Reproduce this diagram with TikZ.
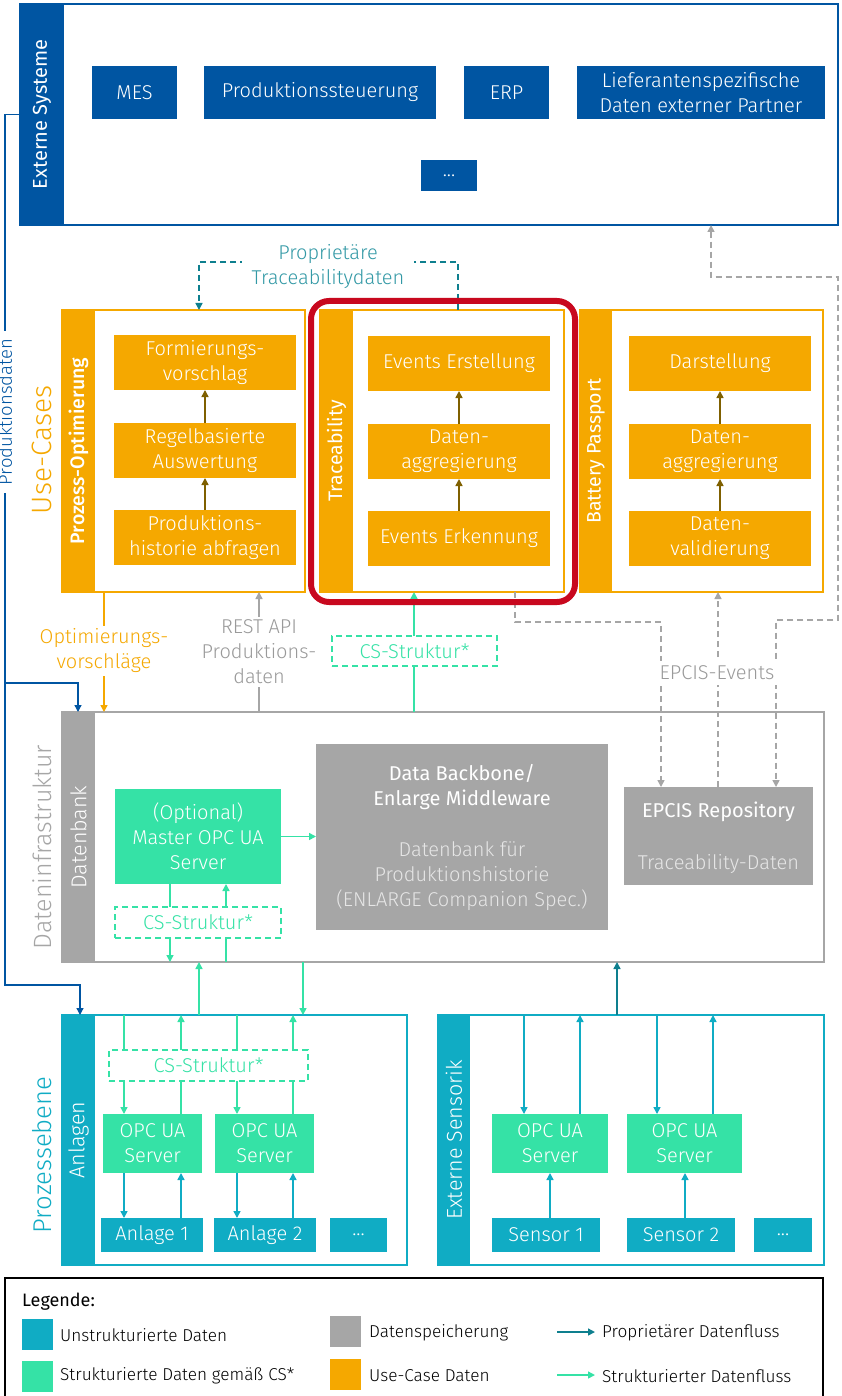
\documentclass[tikz,border=0pt]{standalone}
\usepackage{fontspec}
\setmainfont{Fira Sans}[UprightFont=* Light, BoldFont=* Medium]
\newfontfamily\regfont{Fira Sans}
\usetikzlibrary{arrows.meta,calc}
\definecolor{extblue}{HTML}{0055A2}
\definecolor{uorange}{HTML}{F5A800}
\definecolor{ubrown}{HTML}{7F6000}
\definecolor{uteal}{HTML}{10ACC4}
\definecolor{dteal}{HTML}{0E7F8E}
\definecolor{ptext}{HTML}{3399A6}
\definecolor{sgreen}{HTML}{35E2A6}
\definecolor{sgray}{HTML}{A6A6A6}
\definecolor{tgray}{HTML}{9A9A9A}
\definecolor{bbtext}{HTML}{E6E6E6}
\definecolor{hred}{HTML}{C8081E}
\newcommand{\fB}{\fontsize{20}{25}\selectfont}
\newcommand{\fL}{\fontsize{17.2}{20}\selectfont}
\begin{document}
\begin{tikzpicture}[x=1pt,y=-1pt,
  frm/.style={draw, fill=white, inner sep=0pt, outer sep=0pt, line width=2pt},
  sidebar/.style={inner sep=0pt, outer sep=0pt, draw=none},
  blk/.style={inner sep=0pt, outer sep=0pt, align=center, text=white, font=\fB},
  csbox/.style={draw=sgreen, dash pattern=on 6pt off 4pt, line width=1.5pt, fill=white, text=sgreen, inner sep=0pt, outer sep=0pt, font=\fB},
  arr/.style={-{Triangle[length=7pt,width=7pt]}},
  arrboth/.style={{Triangle[length=7pt,width=7pt]}-{Triangle[length=7pt,width=7pt]}},
  garr/.style={sgreen, line width=1.5pt},
  tarr/.style={uteal, line width=1.5pt},
  brarr/.style={ubrown, line width=1.5pt, arr},
  gdash/.style={sgray, line width=1.5pt, dash pattern=on 6pt off 4pt},
  vlabel/.style={rotate=90, inner sep=0pt, text=white, font=\fontsize{21.5}{25}\selectfont},
  lbl/.style={fill=white, align=center, font=\fB, inner sep=3pt}
]
\useasboundingbox (0,0) rectangle (841,1396);
\fill[white] (0,0) rectangle (841,1396);

% x-position helpers
\foreach \xx in {78,80,104,124,170,181,199,226,237,259,293,303,414,515,524,550,580,617,657,661,685,711,713,718,776}
  {\coordinate (x\xx) at (\xx,0);}
\coordinate (k1) at (838,277);
\coordinate (k2) at (838,620);
\coordinate (b1) at (5,114.5);
\coordinate (b2) at (5,985);
\coordinate (b3) at (5,683);

% ===== Externe Systeme =====
\node[frm, draw=extblue, line width=2.5pt, minimum width=818, minimum height=221] (extf) at (429,114.5) {};
\node[sidebar, fill=extblue, minimum width=44, minimum height=221] (extbar) at (42,114.5) {};
\node[rotate=90, inner sep=0pt, text=white, font=\fontsize{20}{24}\selectfont\regfont] (extlbl) at (extbar) {Externe Systeme};
\node[blk, fill=extblue, minimum width=85, minimum height=53] (mes) at (134.5,92.5) {MES};
\node[blk, fill=extblue, minimum width=232, minimum height=53] (pst) at (320,92.5) {Produktionssteuerung};
\node[blk, fill=extblue, minimum width=85, minimum height=53] (erp) at (506.5,92.5) {ERP};
\node[blk, fill=extblue, minimum width=248, minimum height=53] (lief) at (701,92.5) {Lieferantenspezifische\\Daten externer Partner};
\node[blk, fill=extblue, minimum width=56, minimum height=31] (extdots) at (449,175.5) {...};

% ===== Use-Cases =====
\node[rotate=90, text=uorange, font=\fontsize{28}{32}\selectfont, inner sep=0pt] (uclbl) at (42,450) {Use-Cases};

\node[frm, draw=uorange, minimum width=243, minimum height=282] (pof) at (183.5,451) {};
\node[sidebar, fill=uorange, minimum width=33, minimum height=282] (pobar) at (78.5,451) {};
\node[rotate=90, inner sep=0pt, text=white, font=\fontsize{19.5}{24}\selectfont\bfseries] (polbl) at (pobar) {Prozess-Optimierung};
\node[blk, fill=uorange, minimum width=182, minimum height=55] (po1) at (205,362.5) {Formierungs-\\vorschlag};
\node[blk, fill=uorange, minimum width=182, minimum height=55] (po2) at (205,450.5) {Regelbasierte\\Auswertung};
\node[blk, fill=uorange, minimum width=182, minimum height=55] (po3) at (205,537.5) {Produktions-\\historie abfragen};
\draw[brarr] (po3) -- (po2);
\draw[brarr] (po2) -- (po1);

\node[frm, draw=uorange, minimum width=244, minimum height=282] (trf) at (442,451) {};
\node[sidebar, fill=uorange, minimum width=33, minimum height=282] (trbar) at (336.5,451) {};
\node[rotate=90, inner sep=0pt, text=white, font=\fontsize{19.5}{24}\selectfont\regfont] (trlbl) at (trbar) {Traceability};
\node[blk, fill=uorange, minimum width=182, minimum height=55] (tr1) at (459,363.5) {Events Erstellung};
\node[blk, fill=uorange, minimum width=182, minimum height=55] (tr2) at (459,451.5) {Daten-\\aggregierung};
\node[blk, fill=uorange, minimum width=182, minimum height=55] (tr3) at (459,538.5) {Events Erkennung};
\draw[brarr] (tr3) -- (tr2);
\draw[brarr] (tr2) -- (tr1);

\node[frm, draw=uorange, minimum width=243, minimum height=282] (bpf) at (701.5,451) {};
\node[sidebar, fill=uorange, minimum width=32, minimum height=282] (bpbar) at (596,451) {};
\node[rotate=90, inner sep=0pt, text=white, font=\fontsize{19.5}{24}\selectfont\regfont] (bplbl) at (bpbar) {Battery Passport};
\node[blk, fill=uorange, minimum width=182, minimum height=55] (bp1) at (720,363.5) {Darstellung};
\node[blk, fill=uorange, minimum width=182, minimum height=55] (bp2) at (720,451.5) {Daten-\\aggregierung};
\node[blk, fill=uorange, minimum width=182, minimum height=55] (bp3) at (720,538.5) {Daten-\\validierung};
\draw[brarr] (bp3) -- (bp2);
\draw[brarr] (bp2) -- (bp1);

% proprietary traceability data
\draw[dteal, line width=1.5pt, dash pattern=on 6pt off 4pt, arr] ([xshift=16pt]trf.north) -- ++(0,-48) -| ([xshift=15.5pt]pof.north);
\node[lbl, text=ptext, inner xsep=10pt] (ptd) at (328,267) {Proprietäre\\Traceabilitydaten};

% ===== Dateninfrastruktur =====
\node[frm, draw=sgray, line width=2.5pt, minimum width=762, minimum height=250] (dif) at (443,837) {};
\node[sidebar, fill=sgray, minimum width=33, minimum height=250] (dibar) at (78.5,837) {};
\node[vlabel] (dilbl) at (78.5,837) {Datenbank};
\node[rotate=90, text=sgray, font=\fontsize{25}{30}\selectfont, inner sep=0pt] (ditlbl) at (42,847) {Dateninfrastruktur};

\node[blk, fill=sgreen, minimum width=166, minimum height=95] (master) at (198,836.5) {(Optional)\\Master OPC UA\\Server};
\node[blk, fill=sgray, minimum width=292, minimum height=186] (backbone) at (462,837) {};
\node[blk, font=\fB\regfont] (bbt1) at (462,787.5) {Data Backbone/\\Enlarge Middleware};
\node[blk, text=bbtext] (bbt2) at (462,876) {Datenbank für\\Produktionshistorie\\(ENLARGE Companion Spec.)};
\node[blk, fill=sgray, minimum width=189, minimum height=98] (epcis) at (718.5,836) {};
\node[blk, font=\fB\regfont] (ept1) at (718.5,812) {EPCIS Repository};
\node[blk, text=bbtext] (ept2) at (718.5,864) {Traceability-Daten};
\node[csbox, minimum width=166, minimum height=31] (cs2) at (198,922.5) {CS-Struktur*};

\draw[garr, arr] (master.east) -- (master.east -| backbone.west);
\draw[garr] (master.south -| x170) -- (cs2.north -| x170);
\draw[garr, arr] (cs2.south -| x170) -- (dif.south -| x170);
\draw[garr] (dif.south -| x226) -- (cs2.south -| x226);
\draw[garr, arr] (cs2.north -| x226) -- (master.south -| x226);

% ===== between use cases and data infra =====
\node[csbox, minimum width=165, minimum height=30] (cs1) at (414.5,651) {CS-Struktur*};
\draw[garr] (dif.north -| x414) -- (cs1.south -| x414);
\draw[garr, arr] (cs1.north -| x414) -- (trf.south -| x414);

\draw[sgray, line width=1.5pt, arr] (dif.north -| x259) -- (pof.south -| x259);
\node[lbl, text=tgray] (rest) at (259,652) {REST API\\Produktions-\\daten};

\draw[uorange, line width=1.5pt, arr] (pof.south -| x104) -- (dif.north -| x104);
\node[lbl, text=uorange] (optv) at (104,651) {Optimierungs-\\vorschläge};

\draw[gdash, arr] (trf.south -| x515) -- ++(0,30) -| (epcis.north -| x661);
\draw[gdash, arr] (epcis.north -| x718) -- (bpf.south -| x718);
\draw[gdash, arrboth] (extf.south -| x711) |- (k1) -- (k2) -| (epcis.north -| x776);
\node[lbl, text=tgray, inner sep=5pt] (epev) at (717,673) {EPCIS-Events};

% highlight
\node[draw=hred, line width=6pt, rounded corners=18pt, minimum width=264, minimum height=301, inner sep=0pt, outer sep=0pt] (hl) at (443,451.5) {};

% ===== Prozessebene =====
\node[rotate=90, text=uteal, font=\fontsize{25.7}{30}\selectfont, inner sep=0pt] (pelbl) at (42,1155) {Prozessebene};

\node[frm, draw=uteal, minimum width=345, minimum height=250] (anf) at (234.5,1140) {};
\node[sidebar, fill=uteal, minimum width=33, minimum height=250] (anbar) at (78.5,1140) {};
\node[vlabel] (anlbl) at (78.5,1140) {Anlagen};
\node[csbox, minimum width=199, minimum height=31] (cs3) at (208.5,1065.5) {CS-Struktur*};
\node[blk, fill=sgreen, minimum width=99, minimum height=59] (opc1) at (152.5,1143.5) {OPC UA\\Server};
\node[blk, fill=sgreen, minimum width=99, minimum height=59] (opc2) at (264.5,1143.5) {OPC UA\\Server};
\node[blk, fill=uteal, minimum width=102, minimum height=34] (anl1) at (152,1235) {Anlage 1};
\node[blk, fill=uteal, minimum width=102, minimum height=34] (anl2) at (265,1235) {Anlage 2};
\node[blk, fill=uteal, minimum width=57, minimum height=34] (anl3) at (358.5,1235) {...};

\node[frm, draw=uteal, minimum width=386, minimum height=250] (esf) at (631,1140) {};
\node[sidebar, fill=uteal, minimum width=32, minimum height=250] (esbar) at (454,1140) {};
\node[vlabel] (eslbl) at (454,1140) {Externe Sensorik};
\node[blk, fill=sgreen, minimum width=116, minimum height=59] (opc3) at (550,1143.5) {OPC UA\\Server};
\node[blk, fill=sgreen, minimum width=115, minimum height=59] (opc4) at (684.5,1143.5) {OPC UA\\Server};
\node[blk, fill=uteal, minimum width=108, minimum height=34] (sen1) at (546,1235) {Sensor 1};
\node[blk, fill=uteal, minimum width=108, minimum height=34] (sen2) at (681,1235) {Sensor 2};
\node[blk, fill=uteal, minimum width=58, minimum height=34] (sen3) at (783,1235) {...};

% connections data infra <-> process
\draw[garr, arr] (anf.north -| x199) -- (dif.south -| x199);
\draw[garr, arr] (dif.south -| x303) -- (anf.north -| x303);
\draw[dteal, line width=1.5pt, arr] (esf.north -| x617) -- (dif.south -| x617);

% Anlagen internal
\draw[garr] (anf.north -| x124) -- (cs3.north -| x124);
\draw[garr, arr] (cs3.south -| x124) -- (opc1.north -| x124);
\draw[garr, arr] (cs3.north -| x181) -- (anf.north -| x181);
\draw[garr] (opc1.north -| x181) -- (cs3.south -| x181);
\draw[garr] (anf.north -| x237) -- (cs3.north -| x237);
\draw[garr, arr] (cs3.south -| x237) -- (opc2.north -| x237);
\draw[garr, arr] (cs3.north -| x293) -- (anf.north -| x293);
\draw[garr] (opc2.north -| x293) -- (cs3.south -| x293);
\draw[tarr, arr] (opc1.south -| x124) -- (anl1.north -| x124);
\draw[tarr, arr] (anl1.north -| x181) -- (opc1.south -| x181);
\draw[tarr, arr] (opc2.south -| x237) -- (anl2.north -| x237);
\draw[tarr, arr] (anl2.north -| x293) -- (opc2.south -| x293);

% Sensorik internal
\draw[tarr, arr] (esf.north -| x524) -- (opc3.north -| x524);
\draw[tarr, arr] (opc3.north -| x580) -- (esf.north -| x580);
\draw[tarr, arr] (esf.north -| x657) -- (opc4.north -| x657);
\draw[tarr, arr] (opc4.north -| x713) -- (esf.north -| x713);
\draw[tarr, arr] (sen1.north -| x550) -- (opc3.south -| x550);
\draw[tarr, arr] (sen2.north -| x685) -- (opc4.south -| x685);

% Produktionsdaten (blue)
\draw[extblue, line width=1.3pt, arr] (extbar.west) -- (b1) -- (b2) -| (anf.north -| x80);
\draw[extblue, line width=1.3pt, arr] (b3) -| (dif.north -| x78);
\node[rotate=90, fill=white, text=extblue, font=\fontsize{18.5}{22}\selectfont, inner xsep=8pt, inner ysep=1pt] (pdlbl) at (5,412) {Produktionsdaten};

% ===== Legend =====
\node[draw=black, line width=2pt, minimum width=818, minimum height=130, inner sep=0pt, outer sep=0pt, anchor=north west] (leg) at (5,1278) {};
\node[anchor=west, inner sep=0pt, font=\fontsize{18}{22}\selectfont\regfont] (legt) at (22,1302) {Legende:};
\node[sidebar, fill=uteal, minimum width=31, minimum height=31] (lg1) at (37.5,1334.5) {};
\node[anchor=west, inner sep=0pt, font=\fL] (lg1t) at (60,1335) {Unstrukturierte Daten};
\node[sidebar, fill=sgreen, minimum width=31, minimum height=31] (lg2) at (37.5,1376.5) {};
\node[anchor=west, inner sep=0pt, font=\fL] (lg2t) at (60,1376) {Strukturierte Daten gemäß CS*};
\node[sidebar, fill=sgray, minimum width=31, minimum height=31] (lg3) at (345.5,1331.5) {};
\node[anchor=west, inner sep=0pt, font=\fL] (lg3t) at (369,1333) {Datenspeicherung};
\node[sidebar, fill=uorange, minimum width=31, minimum height=31] (lg4) at (345.5,1374) {};
\node[anchor=west, inner sep=0pt, font=\fL] (lg4t) at (369,1376) {Use-Case Daten};
\coordinate (la1) at (557,1332);
\coordinate (la2) at (595,1332);
\coordinate (la3) at (557,1375);
\coordinate (la4) at (595,1375);
\draw[dteal, line width=1.5pt, arr] (la1) -- (la2);
\draw[sgreen, line width=1.5pt, arr] (la3) -- (la4);
\node[anchor=west, inner sep=0pt, font=\fL] (lg5t) at (602,1333) {Proprietärer Datenfluss};
\node[anchor=west, inner sep=0pt, font=\fL] (lg6t) at (602,1376) {Strukturierter Datenfluss};
\end{tikzpicture}
\end{document}
